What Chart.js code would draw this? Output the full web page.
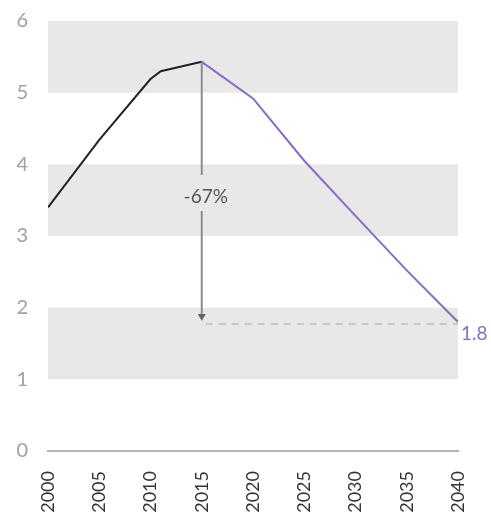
<!DOCTYPE html>
<html>
<head>
<meta charset="utf-8">
<script src="https://cdn.jsdelivr.net/npm/chart.js@4/dist/chart.umd.min.js"></script>
<style>
  html, body { margin: 0; padding: 0; background: #fff; }
  #wrap { width: 491px; height: 517px; }
</style>
</head>
<body>
<div id="wrap"><canvas id="c" width="491" height="517"></canvas></div>
<script>
// Historical values (black) and projection (purple)
const histYears  = [2000, 2005, 2010, 2011, 2015];
const histValues = [3.4, 4.34, 5.19, 5.3, 5.43];
const projYears  = [2015, 2020, 2025, 2030, 2035, 2040];
const projValues = [5.43, 4.92, 4.05, 3.28, 2.52, 1.8];

const yTicks = [0, 1, 2, 3, 4, 5, 6];
const xTicks = [2000, 2005, 2010, 2015, 2020, 2025, 2030, 2035, 2040];
const shadedBands = [[1, 2], [3, 4], [5, 6]];

const changeLabel = '-67%';
const endLabel = '1.8';

const PURPLE = '#8a6bc6';
const FONT = 'Lato, "Open Sans", sans-serif';

const toPoints = (xs, ys) => xs.map((x, i) => ({ x, y: ys[i] }));

// Alternating grey bands behind the lines
const bandsPlugin = {
  id: 'bands',
  beforeDatasetsDraw(chart) {
    const { ctx, chartArea, scales: { y } } = chart;
    ctx.save();
    ctx.fillStyle = '#e8e8e8';
    shadedBands.forEach(([lo, hi]) => {
      const top = y.getPixelForValue(hi);
      const bot = y.getPixelForValue(lo);
      ctx.fillRect(chartArea.left, top, chartArea.right - chartArea.left, bot - top);
    });
    ctx.restore();
  }
};

// Arrow from the peak down to the 2040 level, with the change label
const annotationPlugin = {
  id: 'dropArrow',
  afterDatasetsDraw(chart) {
    const { ctx, scales: { x, y } } = chart;
    const peakYear = projYears[0];
    const peakVal = projValues[0];
    const endYear = projYears[projYears.length - 1];
    const endVal = projValues[projValues.length - 1];
    const px = x.getPixelForValue(peakYear);
    const pTop = y.getPixelForValue(peakVal);
    const pEnd = y.getPixelForValue(endVal);
    const ex = x.getPixelForValue(endYear);
    const labelY = 197;

    ctx.save();
    // dashed reference line at the end value
    ctx.strokeStyle = '#c8c8c8';
    ctx.lineWidth = 2;
    ctx.setLineDash([7, 6]);
    ctx.beginPath();
    ctx.moveTo(px + 4, pEnd + 2);
    ctx.lineTo(ex, pEnd + 2);
    ctx.stroke();
    ctx.setLineDash([]);

    // vertical arrow shaft with a gap around the label
    ctx.strokeStyle = '#8c8c8c';
    ctx.lineWidth = 2;
    ctx.beginPath();
    ctx.moveTo(px, pTop);
    ctx.lineTo(px, labelY - 22);
    ctx.moveTo(px, labelY + 14);
    ctx.lineTo(px, pEnd - 6);
    ctx.stroke();

    // arrow head
    ctx.fillStyle = '#666';
    ctx.beginPath();
    ctx.moveTo(px - 4, pEnd - 8);
    ctx.lineTo(px + 4, pEnd - 8);
    ctx.lineTo(px, pEnd - 1);
    ctx.closePath();
    ctx.fill();

    // change label
    ctx.fillStyle = '#555';
    ctx.font = '19px ' + FONT;
    ctx.textAlign = 'center';
    ctx.textBaseline = 'middle';
    ctx.fillText(changeLabel, px + 4, labelY);

    // end value label
    ctx.fillStyle = PURPLE;
    ctx.font = '19px ' + FONT;
    ctx.textAlign = 'left';
    ctx.fillText(endLabel, ex + 3, pEnd + 12);
    ctx.restore();
  }
};

new Chart(document.getElementById('c'), {
  type: 'line',
  data: {
    datasets: [
      {
        data: toPoints(histYears, histValues),
        borderColor: '#222',
        borderWidth: 2,
        pointRadius: 0,
        tension: 0
      },
      {
        data: toPoints(projYears, projValues),
        borderColor: PURPLE,
        borderWidth: 2,
        pointRadius: 0,
        tension: 0
      }
    ]
  },
  options: {
    responsive: false,
    animation: false,
    layout: { padding: { top: 21, right: 33, left: 0, bottom: 0 } },
    plugins: {
      legend: { display: false },
      tooltip: { enabled: false }
    },
    scales: {
      x: {
        type: 'linear',
        min: 2000,
        max: 2040,
        afterBuildTicks(axis) { axis.ticks = xTicks.map(v => ({ value: v })); },
        afterFit(axis) {
          axis.height = 66;
          axis.paddingLeft = 0;
          axis.paddingRight = 0;
        },
        grid: { display: false, drawTicks: false },
        border: { display: true, color: '#b4b4b4', width: 2 },
        ticks: {
          color: '#333',
          font: { family: FONT, size: 18 },
          minRotation: 90,
          maxRotation: 90,
          padding: 20,
          callback: v => String(v)
        }
      },
      y: {
        min: 0,
        max: 6,
        afterBuildTicks(axis) { axis.ticks = yTicks.map(v => ({ value: v })); },
        afterFit(axis) {
          axis.width = 48;
          axis.paddingTop = 0;
          axis.paddingBottom = 0;
        },
        grid: { display: false, drawTicks: false },
        border: { display: false },
        ticks: {
          color: '#a0a0a0',
          font: { family: FONT, size: 20 },
          padding: 20
        }
      }
    }
  },
  plugins: [bandsPlugin, annotationPlugin]
});
</script>
</body>
</html>
